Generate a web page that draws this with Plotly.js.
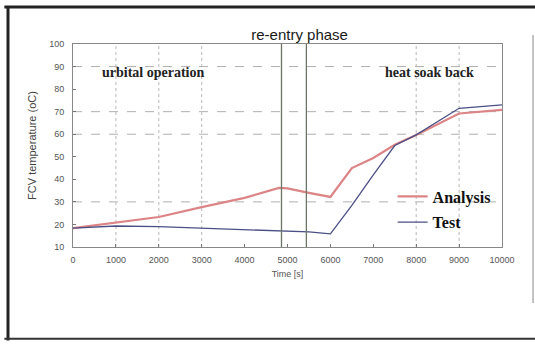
<!DOCTYPE html>
<html>
<head>
<meta charset="utf-8">
<script src="https://cdn.plot.ly/plotly-3.0.1.min.js"></script>
<style>html,body{margin:0;padding:0;background:#fff;}#chart{width:535px;height:347px;}</style>
</head>
<body>
<div id="chart"></div>
<script>
// Data
const analysisTime = [0, 1000, 2000, 3000, 4000, 4800, 5000, 5500, 6000, 6500, 7000, 7500, 8000, 9000, 10000];
const analysisTemp = [18.4, 20.8, 23.3, 27.7, 31.8, 36.2, 36.0, 34.0, 32.2, 45, 49.5, 55.3, 59.7, 69.2, 70.8];
const testTime = [0, 1000, 2000, 3000, 4000, 5000, 5500, 6000, 6500, 7000, 7500, 8000, 9000, 10000];
const testTemp = [18.4, 19.3, 19.0, 18.4, 17.6, 17.0, 16.7, 15.8, 28.5, 42, 55, 59.7, 71.5, 73];
const phaseBounds = [4860, 5440];
const gridX = [1000, 2000, 3000, 8000, 9000];
const gridY = [90, 70, 60, 30];
const xTicks = [0, 1000, 2000, 3000, 4000, 5000, 6000, 7000, 8000, 9000, 10000];
const yTicks = [10, 20, 30, 40, 50, 60, 70, 80, 90, 100];

const shapes = [];
gridX.forEach(v => shapes.push({type:'line', xref:'x', yref:'paper', x0:v, x1:v, y0:0, y1:1,
  line:{color:'#b8b8b8', width:1, dash:'dot'}, layer:'below'}));
gridY.forEach(v => shapes.push({type:'line', xref:'paper', yref:'y', x0:0, x1:1, y0:v, y1:v,
  line:{color:'#b0b0b0', width:1, dash:'dash'}, layer:'below'}));
phaseBounds.forEach(v => shapes.push({type:'line', xref:'x', yref:'paper', x0:v, x1:v, y0:0, y1:1,
  line:{color:'#6b7566', width:1.3}}));
// outer frame of the figure
shapes.push({type:'line', xref:'paper', yref:'paper', x0:-0.1515, x1:-0.1515, y0:1.185, y1:-0.46, line:{color:'#222', width:3}});
shapes.push({type:'line', xref:'paper', yref:'paper', x0:-0.16, x1:1.1, y0:1.182, y1:1.182, line:{color:'#222', width:3}});
shapes.push({type:'line', xref:'paper', yref:'paper', x0:-0.16, x1:1.1, y0:-0.452, y1:-0.452, line:{color:'#333', width:2}});
shapes.push({type:'line', xref:'paper', yref:'paper', x0:1.0723, x1:1.0723, y0:1.044, y1:-0.276, line:{color:'#888', width:1}});

const data = [
  {x: analysisTime, y: analysisTemp, name: 'Analysis', mode: 'lines', legendgroup:'a',
   line: {color: '#dc8486', width: 2.2}},
  {x: testTime, y: testTemp, name: 'Test', mode: 'lines', legendgroup:'t',
   line: {color: '#4b4f86', width: 1.3}}
];

const layout = {
  width: 535, height: 347,
  margin: {l: 73, r: 33, t: 44, b: 100},
  paper_bgcolor: '#fff', plot_bgcolor: '#fff',
  showlegend: true,
  legend: {x: 0.745, y: 0.185, xanchor: 'left', yanchor: 'middle', bgcolor: 'rgba(0,0,0,0)',
    font: {family: 'Liberation Serif', size: 16, color: '#111', weight: 'bold'},
    tracegroupgap: 2, itemwidth: 30},
  title: {text: 're-entry phase', x: 0.56, xanchor: 'center', y: 0.885, yanchor: 'bottom', yref: 'container',
    font: {family: 'Liberation Sans', size: 15, color: '#1a1a1a'}},
  xaxis: {range: [0, 10000], tickvals: xTicks, ticktext: xTicks.map(String), ticks: 'inside', ticklen: 3,
    tickcolor: '#777', showgrid: false, zeroline: false, showline: true, mirror: true, linecolor: '#888', linewidth: 1,
    tickfont: {family: 'Liberation Sans', size: 9, color: '#555'}, ticklabelstandoff: 4,
    title: {text: 'Time [s]', font: {family: 'Liberation Sans', size: 9, color: '#555'}, standoff: 6}},
  yaxis: {range: [10, 100], tickvals: yTicks, ticktext: yTicks.map(String), ticks: 'inside', ticklen: 3,
    tickcolor: '#777', showgrid: false, zeroline: false, showline: true, mirror: true, linecolor: '#888', linewidth: 1,
    tickfont: {family: 'Liberation Sans', size: 9, color: '#555'}, ticklabelstandoff: 6,
    title: {text: 'FCV temperature (oC)', font: {family: 'Liberation Sans', size: 11, color: '#444'}, standoff: 10}},
  shapes: shapes,
  annotations: [
    {text: 'urbital operation', xref: 'x', yref: 'y', x: 1860, y: 87.2, showarrow: false, xanchor: 'center',
     font: {family: 'Liberation Serif', size: 14, color: '#222', weight: 'bold'}},
    {text: 'heat soak back', xref: 'x', yref: 'y', x: 8300, y: 87.2, showarrow: false, xanchor: 'center',
     font: {family: 'Liberation Serif', size: 14, color: '#222', weight: 'bold'}}
  ]
};

Plotly.newPlot('chart', data, layout, {displayModeBar: false, staticPlot: true});
</script>
</body>
</html>
